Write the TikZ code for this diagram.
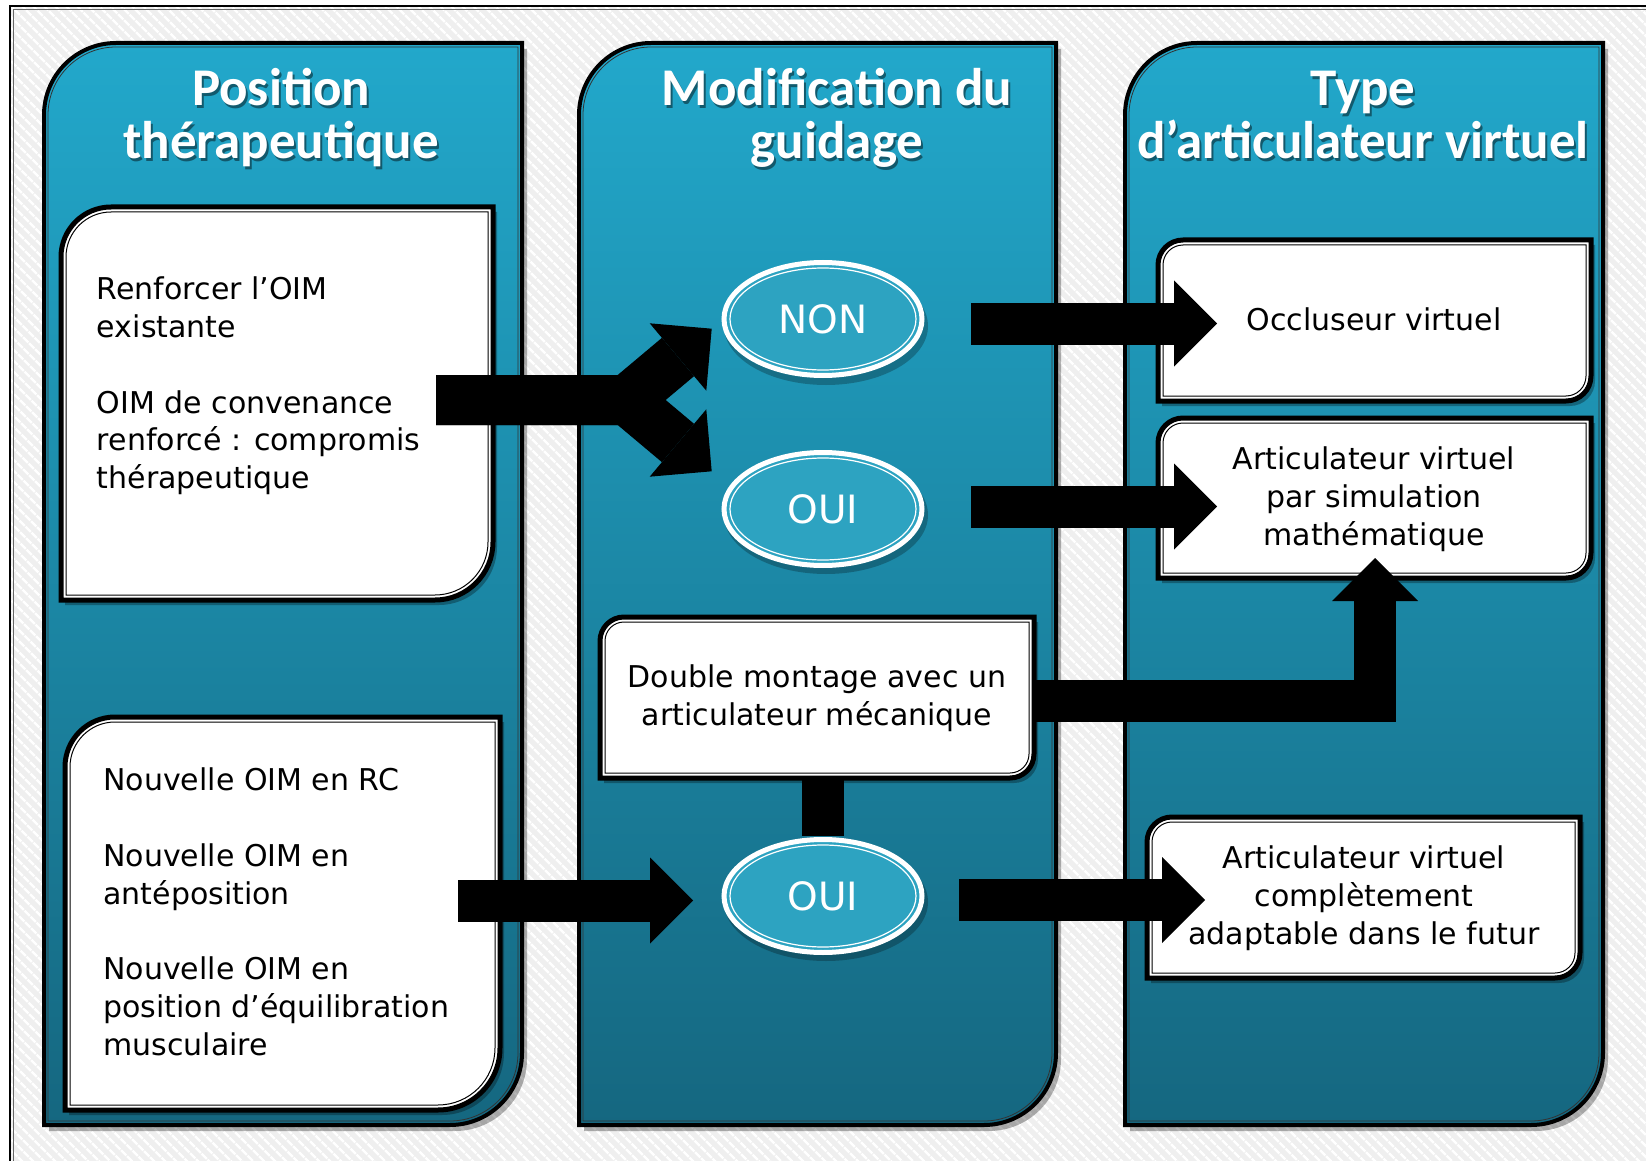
\documentclass[tikz,border=0pt]{standalone}
\usepackage{fontspec}
\setmainfont{DejaVu Sans}
\newfontfamily\ttlfont{Carlito}
\usetikzlibrary{shapes.geometric,arrows.meta,patterns.meta}
\definecolor{paneltop}{HTML}{22A8CB}
\definecolor{panelbot}{HTML}{156780}
\definecolor{ovalfill}{HTML}{2DA3C1}
\definecolor{bggray}{HTML}{EFEFEF}

% x1 y1 x2 y2 r(top-left) r(bottom-right)
\newcommand{\rpath}[6]{({#1},{(#2)+(#5)}) .. controls ({#1},{(#2)+0.448*(#5)}) and ({(#1)+0.448*(#5)},{#2}) .. ({(#1)+(#5)},{#2}) -- ({#3},{#2}) -- ({#3},{(#4)-(#6)}) .. controls ({#3},{(#4)-0.448*(#6)}) and ({(#3)-0.448*(#6)},{#4}) .. ({(#3)-(#6)},{#4}) -- ({#1},{#4}) -- cycle}

\newcommand{\panelshape}[6]{%
 \fill[black,opacity=.3] \rpath{(#1)+5}{(#2)+6}{(#3)+5}{(#4)+6}{#5}{#6};
 \draw[line width=2pt, top color=paneltop, bottom color=panelbot] \rpath{#1}{#2}{#3}{#4}{#5}{#6};
 \draw[line width=.4pt, black!80] \rpath{(#1)+4}{(#2)+4}{(#3)-4}{(#4)-4}{(#5)-4}{(#6)-4};}

\newcommand{\whitebox}[6]{%
 \fill[black,opacity=.3] \rpath{(#1)+4}{(#2)+5}{(#3)+4}{(#4)+5}{#5}{#6};
 \draw[line width=2.5pt, fill=white] \rpath{#1}{#2}{#3}{#4}{#5}{#6};
 \draw[line width=.5pt] \rpath{(#1)+5}{(#2)+5}{(#3)-5}{(#4)-5}{(#5)-5}{(#6)-5};}

\tikzset{
 bodytext/.style={inner sep=0pt, font=\fontsize{15}{18.9}\selectfont, text=black},
 ttlstyle/.style={anchor=base, inner sep=0pt, font=\ttlfont\bfseries\fontsize{26.5}{30}\selectfont},
 ovalnode/.style={ellipse, minimum width=99pt, minimum height=56.5pt, inner sep=0pt,
   fill=ovalfill, draw=white, line width=2.5pt, text=white,
   font=\fontsize{19.5}{22}\selectfont,
   path picture={\draw[white, line width=.6pt] (path picture bounding box.center) ellipse [x radius=46.5pt, y radius=25.5pt];}},
 barrow/.style={draw=black, line width=21pt, line join=miter,
   -{Triangle[length=21.5pt, width=43pt, line width=0pt]}},
 farrow/.style={draw=black, line width=25pt, line join=miter,
   -{Triangle[length=22pt, width=44pt, line width=0pt]}},
 barline/.style={draw=black, line width=21pt},
}

\newcommand{\ttl}[4]{%
 \node[ttlstyle, text=black, opacity=.45] (#1s) at ({(#2)+2},{(#3)+2.5}) {#4};
 \node[ttlstyle, text=white] (#1) at (#2,#3) {#4};}

\begin{document}
\begin{tikzpicture}[x=0.5pt, y=-0.5pt]
\useasboundingbox (0,0) rectangle (1646,1161);
% background
\fill[white] (0,0) rectangle (1646,1161);
\fill[bggray] (10,6) rectangle (1646,1161);
\fill[pattern={Lines[angle=-45,distance=4pt,line width=1.3pt]}, pattern color=white] (10,6) rectangle (1646,1161);
\draw[black, line width=1pt] (10,1161) -- (10,6) -- (1646,6);
\draw[black!60, line width=.4pt] (13.5,1161) -- (13.5,9.5) -- (1646,9.5);

% panels
\panelshape{44}{43}{522}{1125}{72}{72}
\panelshape{579}{43}{1056}{1125}{72}{72}
\panelshape{1125}{43}{1603}{1125}{72}{72}

% titles
\ttl{t1a}{281}{106}{Position}
\ttl{t1b}{281}{159}{thérapeutique}
\ttl{t2a}{837}{106}{Modification du}
\ttl{t2b}{837}{159}{guidage}
\ttl{t3a}{1363}{106}{Type}
\ttl{t3b}{1363}{159}{d’articulateur virtuel}

% connector between box C and lower OUI (behind the box)
\coordinate (cTop) at (823,776);
\coordinate (cBot) at (823,836);
\draw[barline] (cTop) -- (cBot);

% white boxes
\whitebox{61}{207}{493}{600}{50}{58}
\node[bodytext, anchor=west, align=left] (txtA) at (96.6,386) {Renforcer l’OIM\\existante\\[18.9pt]OIM de convenance\\renforcé : compromis\\thérapeutique};
\whitebox{65}{717}{500}{1110}{50}{62}
\node[bodytext, anchor=west, align=left] (txtB) at (103,912) {Nouvelle OIM en RC\\[18.9pt]Nouvelle OIM en\\antéposition\\[18.9pt]Nouvelle OIM en\\position d’équilibration\\musculaire};
\whitebox{600}{617}{1034}{778}{24}{24}
\node[bodytext, align=center] (txtC) at (817,698) {Double montage avec un\\articulateur mécanique};
\whitebox{1158}{240}{1591}{401}{25}{25}
\node[bodytext, align=center] (txtD) at (1374,319) {Occluseur virtuel};
\whitebox{1158}{418}{1591}{578}{25}{25}
\node[bodytext, align=center] (txtE) at (1374,499) {Articulateur virtuel\\par simulation\\mathématique};
\whitebox{1147}{817}{1580}{978}{25}{25}
\node[bodytext, align=center] (txtF) at (1364,898) {Articulateur virtuel\\complètement\\adaptable dans le futur};

% ellipses
\fill[black,opacity=.25] (826,326) ellipse [x radius=51pt, y radius=29.5pt];
\fill[black,opacity=.25] (826,515) ellipse [x radius=51pt, y radius=29.5pt];
\fill[black,opacity=.25] (826,902) ellipse [x radius=51pt, y radius=29.5pt];
\node[ovalnode] (non) at (823,319) {NON};
\node[ovalnode] (ouiA) at (823,509) {OUI};
\node[ovalnode] (ouiB) at (823,896) {OUI};

% fork arrow from box A to NON / OUI
\coordinate (fk) at (436,400);
\coordinate (fkb) at (626.8,400);
\coordinate (tN) at (711.7,328.7);
\coordinate (tO) at (711.7,471.3);
\draw[farrow] (fk) -- (fkb) -- (tN);
\draw[farrow] (fk) -- (fkb) -- (tO);

% straight arrows
\coordinate (nS) at (971,323.5);
\coordinate (nE) at (1217,323.5);
\draw[barrow] (nS) -- (nE);
\coordinate (oS) at (971,506.5);
\coordinate (oE) at (1217,506.5);
\draw[barrow] (oS) -- (oE);
\coordinate (bS) at (458,900.5);
\coordinate (bE) at (693,900.5);
\draw[barrow] (bS) -- (bE);
\coordinate (fS) at (959,900);
\coordinate (fE) at (1205,900);
\draw[barrow] (fS) -- (fE);
% bent arrow from box C to box E
\coordinate (cS) at (1036,701);
\coordinate (cM) at (1375,701);
\coordinate (cE) at (1375,558);
\draw[barrow] (cS) -- (cM) -- (cE);
\end{tikzpicture}
\end{document}
